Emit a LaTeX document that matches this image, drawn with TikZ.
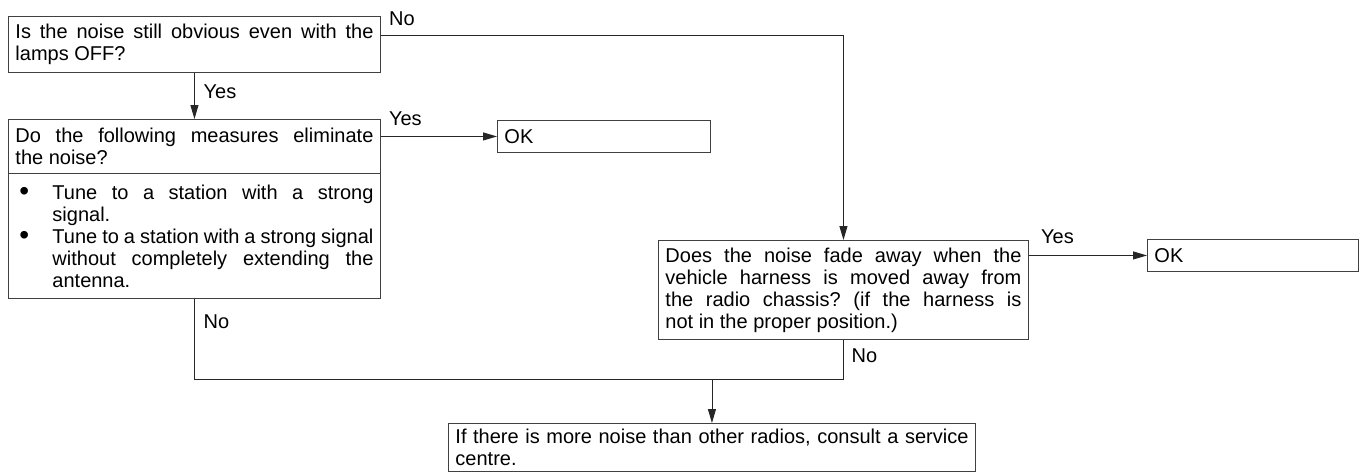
\documentclass[tikz,border=0pt]{standalone}
\usepackage{fontspec}
\setmainfont{Liberation Sans}
\usetikzlibrary{arrows.meta,calc}
\newcommand{\bigdot}{\raisebox{-1pt}{\fontsize{28}{22}\selectfont\textbullet}}
\begin{document}
\frenchspacing
\begin{tikzpicture}[x=1pt,y=-1pt,
  box/.style={draw=black!75, line width=0.9pt, anchor=north west, inner xsep=7pt, inner ysep=0pt, align=justify, font=\fontsize{20}{22}\selectfont\frenchspacing},
  conn/.style={draw=black!85, line width=0.9pt},
  arr/.style={conn, -{Triangle[length=14pt,width=8pt]}},
  lbl/.style={font=\fontsize{20}{22}\selectfont, inner sep=0pt, anchor=base west}]
\useasboundingbox (0,0) rectangle (1365,475);

\node[box, text width=358pt, minimum width=372pt, minimum height=56pt] (A) at (8,16)
  {Is the noise still obvious even with the\linebreak lamps OFF?};
\node[box, text width=358pt, minimum width=372pt, minimum height=54pt] (B1) at (8,119)
  {Do the following measures eliminate\linebreak the noise?};
\node[box, text width=358pt, minimum width=372pt, minimum height=125pt] (B2) at (8,173)
  {{\hangindent=37pt\hangafter=0\noindent\llap{\makebox[37pt][l]{\hspace{4pt}\bigdot}}Tune to a station with a strong\linebreak signal.\par}%
   {\hangindent=37pt\hangafter=0\noindent\llap{\makebox[37pt][l]{\hspace{4pt}\bigdot}}Tune to a station with a strong signal\linebreak without completely extending the\linebreak antenna.\par}};
\node[box, text width=199pt, minimum width=213pt, minimum height=32pt, align=left] (OKa) at (497,120) {OK};
\node[box, text width=356pt, minimum width=370pt, minimum height=99pt] (C) at (658,240)
  {Does the noise fade away when the\linebreak vehicle harness is moved away from\linebreak the radio chassis? (if the harness is\linebreak not in the proper position.)};
\node[box, text width=197pt, minimum width=211pt, minimum height=32pt, align=left] (OKb) at (1147,239) {OK};
\node[box, text width=513pt, minimum width=527pt, minimum height=48pt] (D) at (448,423)
  {If there is more noise than other radios, consult a service\linebreak centre.};

% connectors
\draw[arr] ($(A.north east)+(0,19)$) -| (C.north);
\draw[arr] (A.south) -- (B1.north);
\draw[arr] (B1.east |- OKa.west) -- (OKa.west);
\draw[arr] (C.east |- OKb.west) -- (OKb.west);
\coordinate (jl) at ($(B2.south)+(0,81)$);
\draw[conn] (B2.south) -- (jl) -| (C.south);
\draw[arr] (D.north |- jl) -- (D.north);

% labels
\node[lbl] (lno1) at ($(A.north east)+(8,9)$) {No};
\node[lbl] (lyes1) at ($(A.south)+(9,26)$) {Yes};
\node[lbl] (lyes2) at ($(B1.north east)+(8,6)$) {Yes};
\node[lbl] (lno2) at ($(B2.south)+(9,30)$) {No};
\node[lbl] (lyes3) at ($(C.north east)+(12,3)$) {Yes};
\node[lbl] (lno3) at ($(C.south)+(8,23)$) {No};
\end{tikzpicture}
\end{document}
